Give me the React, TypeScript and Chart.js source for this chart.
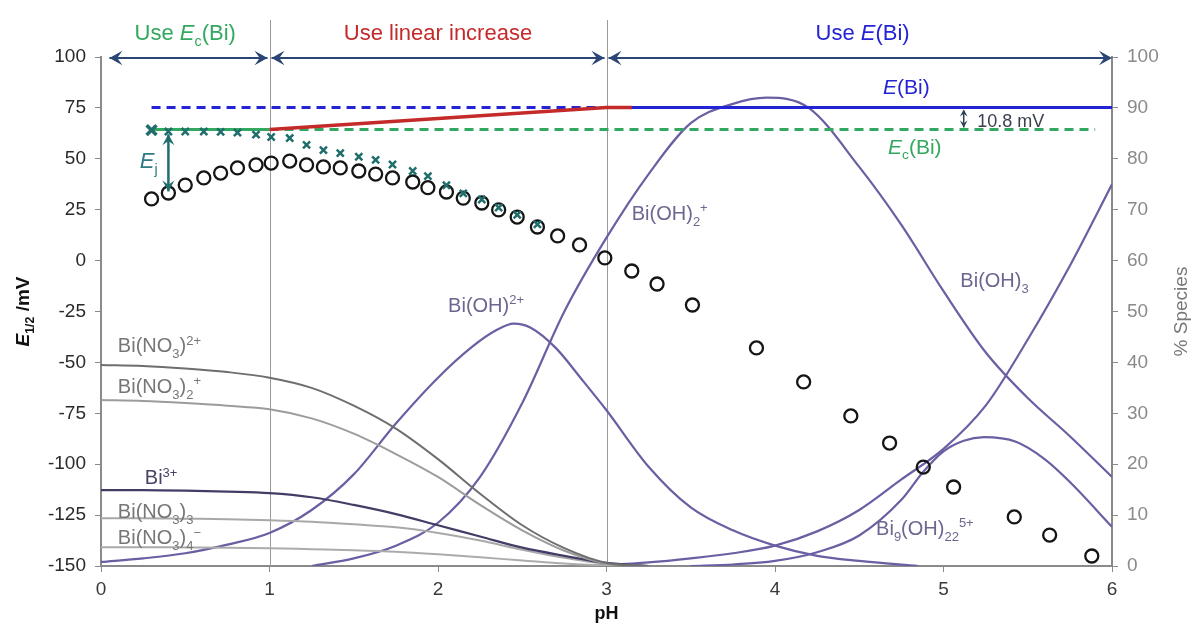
import React, { useEffect, useRef } from 'react';
import { Chart, registerables } from 'chart.js';

Chart.register(...registerables);

// ---------- data ----------
const xTickValues = [0, 1, 2, 3, 4, 5, 6];
const boundaryPH = [1, 3];

const measuredPH = [0.30, 0.40, 0.50, 0.61, 0.71, 0.81, 0.92, 1.01, 1.12, 1.22, 1.32, 1.42, 1.53, 1.63, 1.73, 1.85, 1.94, 2.05, 2.15, 2.26, 2.36, 2.47, 2.59, 2.71, 2.84, 2.99, 3.15, 3.30, 3.51, 3.89, 4.17, 4.45, 4.68, 4.88, 5.06, 5.42, 5.63, 5.88];
const measuredE = [30.3, 33.2, 37.1, 40.6, 43.0, 45.5, 47.0, 47.9, 48.9, 47.0, 46.0, 45.5, 44.0, 42.5, 40.6, 38.6, 35.8, 33.7, 30.7, 28.3, 24.9, 21.4, 16.5, 12.1, 7.7, 1.3, -5.1, -11.5, -21.8, -42.9, -59.6, -76.3, -89.6, -101.4, -111.2, -125.9, -134.8, -145.1];

const correctedPH = [0.30, 0.40, 0.50, 0.61, 0.71, 0.81, 0.92, 1.01, 1.12, 1.22, 1.32, 1.42, 1.53, 1.63, 1.73, 1.85, 1.94, 2.05, 2.15, 2.26, 2.36, 2.47, 2.59];
const correctedE = [64.1, 63.4, 63.4, 63.4, 63.2, 62.9, 61.9, 60.7, 60.2, 56.8, 54.3, 52.8, 51.0, 49.5, 47.2, 44.0, 41.5, 37.0, 33.0, 30.0, 26.0, 22.5, 17.8];

const E_BI = 75.2;
const EC_BI = 64.4;
const eBiDashPH = [0.3, 3.0];
const eBiSolidPH = [3.0, 6.0];
const ecSolidPH = [0.3, 1.0];
const ecDashPH = [1.0, 5.9];
const linearPH = [1.0, 3.0, 3.15];
const linearE = [64.4, 75.2, 75.2];

const nitrate1PH = [0, 0.25, 0.5, 0.75, 1, 1.25, 1.5, 1.75, 2, 2.25, 2.5, 2.75, 3, 3.25];
const nitrate1 = [39.5, 39.3, 38.8, 38.1, 37.0, 35.0, 31.5, 27.0, 21.0, 14.2, 8.0, 3.5, 0.6, 0];
const nitrate2PH = [0, 0.25, 0.5, 0.75, 1, 1.25, 1.5, 1.75, 2, 2.25, 2.5, 2.75, 3, 3.25];
const nitrate2 = [32.6, 32.4, 32.0, 31.5, 30.8, 29.0, 26.0, 22.0, 17.5, 12.0, 7.0, 3.0, 0.5, 0];
const bi3PH = [0, 0.25, 0.5, 0.75, 1, 1.25, 1.5, 1.75, 2, 2.25, 2.5, 2.75, 3, 3.25];
const bi3 = [14.9, 14.9, 14.8, 14.6, 14.3, 13.5, 12.0, 10.2, 8.0, 5.8, 3.6, 2.0, 0.6, 0];
const nitrate3PH = [0, 0.25, 0.5, 0.75, 1, 1.25, 1.5, 1.75, 2, 2.25, 2.5, 2.75, 3, 3.25];
const nitrate3 = [9.4, 9.4, 9.3, 9.2, 9.0, 8.7, 8.2, 7.6, 6.5, 5.0, 3.2, 1.6, 0.4, 0];
const nitrate4PH = [0, 0.25, 0.5, 0.75, 1, 1.25, 1.5, 1.75, 2, 2.25, 2.5, 2.75, 3, 3.25];
const nitrate4 = [3.7, 3.7, 3.65, 3.6, 3.5, 3.3, 3.1, 2.8, 2.3, 1.7, 1.1, 0.5, 0.1, 0];

const biOH1PH = [0, 0.25, 0.5, 0.75, 1, 1.25, 1.5, 1.75, 2, 2.2, 2.35, 2.45, 2.55, 2.7, 2.85, 3, 3.25, 3.5, 3.75, 4, 4.25, 4.5, 4.85];
const biOH1 = [0.8, 1.5, 2.5, 4.2, 6.5, 11.0, 18.0, 28.0, 37.0, 43.0, 46.4, 47.6, 46.8, 42.8, 36.8, 30.6, 19.5, 11.5, 7.0, 4.0, 2.0, 1.0, 0];
const biOH2PH = [1.25, 1.5, 1.75, 2, 2.25, 2.5, 2.75, 3, 3.25, 3.5, 3.75, 3.95, 4.2, 4.5, 4.75, 5, 5.25, 5.5, 5.75, 6];
const biOH2 = [0, 1.5, 4.0, 8.5, 17.5, 32.0, 50.0, 64.5, 77.0, 87.0, 90.8, 92.0, 90.0, 78.4, 67.0, 54.0, 42.0, 33.0, 25.5, 17.5];
const biOH3PH = [2.9, 3.25, 3.5, 3.75, 4, 4.25, 4.5, 4.75, 5, 5.25, 5.5, 5.75, 6];
const biOH3 = [0, 0.7, 1.5, 2.5, 4.0, 6.8, 11.0, 17.0, 23.0, 31.5, 44.5, 59.0, 75.0];
const bi9PH = [3.5, 3.75, 4, 4.25, 4.5, 4.75, 4.88, 5, 5.12, 5.24, 5.43, 5.6, 5.75, 6];
const bi9 = [0, 0.3, 1.0, 2.7, 6.0, 13.0, 18.5, 22.5, 24.6, 25.3, 24.4, 21.0, 16.5, 7.7];

// ---------- helpers ----------
const FAMILY = '"Liberation Sans", Arial, sans-serif';
const pts = (xs: number[], ys: number[]) => xs.map((x, i) => ({ x, y: ys[i] }));
const flat = (xs: number[], v: number) => xs.map((x) => ({ x, y: v }));

type Seg = { t: string; it?: boolean; sub?: boolean; sup?: boolean };

function rich(ctx: CanvasRenderingContext2D, segs: Seg[], x: number, y: number, size: number, color: string, align: 'left' | 'center' | 'right' = 'left', bold = false) {
  const f = (s: Seg) => {
    const sz = s.sub || s.sup ? size * 0.65 : size;
    return `${s.it ? 'italic ' : ''}${bold ? 'bold ' : ''}${sz}px ${FAMILY}`;
  };
  let w = 0;
  for (const s of segs) { ctx.font = f(s); w += ctx.measureText(s.t).width; }
  let cx = align === 'center' ? x - w / 2 : align === 'right' ? x - w : x;
  const base = y + size * 0.36;
  ctx.fillStyle = color;
  ctx.textBaseline = 'alphabetic';
  ctx.textAlign = 'left';
  for (const s of segs) {
    ctx.font = f(s);
    const dy = s.sub ? size * 0.28 : s.sup ? -size * 0.38 : 0;
    ctx.fillText(s.t, cx, base + dy);
    cx += ctx.measureText(s.t).width;
  }
}

function head(ctx: CanvasRenderingContext2D, x: number, y: number, ang: number, size: number, color: string) {
  const c = Math.cos(ang), s = Math.sin(ang);
  const p = (bx: number, by: number) => [x + bx * c - by * s, y + bx * s + by * c];
  const a = p(-size, -size * 0.55), b = p(-size * 0.6, 0), d = p(-size, size * 0.55);
  ctx.fillStyle = color;
  ctx.beginPath();
  ctx.moveTo(x, y);
  ctx.lineTo(a[0], a[1]);
  ctx.lineTo(b[0], b[1]);
  ctx.lineTo(d[0], d[1]);
  ctx.closePath();
  ctx.fill();
}

function dbl(ctx: CanvasRenderingContext2D, x1: number, y1: number, x2: number, y2: number, color: string, lw: number, hs: number) {
  ctx.strokeStyle = color;
  ctx.lineWidth = lw;
  ctx.beginPath();
  ctx.moveTo(x1, y1);
  ctx.lineTo(x2, y2);
  ctx.stroke();
  const ang = Math.atan2(y2 - y1, x2 - x1);
  head(ctx, x2, y2, ang, hs, color);
  head(ctx, x1, y1, ang + Math.PI, hs, color);
}

const GREEN = '#33a860';
const RED = '#c42a2a';
const BLUE = '#2424d4';
const NAVY = '#2b4675';
const TEAL = '#1f6e6c';
const PURPLE = '#6b5ea3';
const PURPLE_TXT = '#6e6590';
const GRAY_TXT = '#767676';

const overlay = {
  id: 'overlay',
  beforeDatasetsDraw(chart: any) {
    const ctx = chart.ctx as CanvasRenderingContext2D;
    const xs = chart.scales.x, area = chart.chartArea;
    ctx.save();
    ctx.strokeStyle = '#9a9a9a';
    ctx.lineWidth = 1;
    for (const b of boundaryPH) {
      const px = Math.round(xs.getPixelForValue(b)) + 0.5;
      ctx.beginPath();
      ctx.moveTo(px, area.top - 37);
      ctx.lineTo(px, area.bottom);
      ctx.stroke();
    }
    ctx.restore();
  },
  afterDatasetsDraw(chart: any) {
    const ctx = chart.ctx as CanvasRenderingContext2D;
    const xs = chart.scales.x, ys = chart.scales.y, y2 = chart.scales.y2, area = chart.chartArea;
    const X = (v: number) => xs.getPixelForValue(v);
    const Y = (v: number) => ys.getPixelForValue(v);
    const S = (v: number) => y2.getPixelForValue(v);
    ctx.save();

    // top region arrows
    const ay = S(100) + 1;
    dbl(ctx, X(0.05), ay, X(1) - 2, ay, NAVY, 2, 13);
    dbl(ctx, X(1) + 2, ay, X(3) - 2, ay, NAVY, 2, 13);
    ctx.strokeStyle = NAVY; ctx.lineWidth = 2;
    ctx.beginPath(); ctx.moveTo(X(3) + 2, ay); ctx.lineTo(X(6) - 2, ay); ctx.stroke();
    head(ctx, X(3) + 2, ay, Math.PI, 13, NAVY);
    head(ctx, X(6), ay, 0, 13, NAVY);

    // region titles
    const ty = area.top - 25;
    rich(ctx, [{ t: 'Use ' }, { t: 'E', it: true }, { t: 'c', sub: true }, { t: '(Bi)' }], X(0.5), ty, 22, GREEN, 'center');
    rich(ctx, [{ t: 'Use linear increase' }], X(2.0), ty, 22, RED, 'center');
    rich(ctx, [{ t: 'Use ' }, { t: 'E', it: true }, { t: '(Bi)' }], X(4.52), ty, 22, BLUE, 'center');

    // line labels
    rich(ctx, [{ t: 'E', it: true }, { t: '(Bi)' }], X(4.78), Y(85.3), 21, BLUE, 'center');
    rich(ctx, [{ t: 'E', it: true }, { t: 'c', sub: true }, { t: '(Bi)' }], X(4.83), Y(56.3), 21, GREEN, 'center');

    // 10.8 mV marker
    const mx = X(5.12);
    ctx.strokeStyle = '#2d3e55'; ctx.lineWidth = 1.5;
    ctx.beginPath(); ctx.moveTo(mx, Y(E_BI) + 3); ctx.lineTo(mx, Y(EC_BI) - 2); ctx.stroke();
    head(ctx, mx, Y(E_BI) + 2, -Math.PI / 2, 7, '#2d3e55');
    head(ctx, mx, Y(EC_BI) - 2, Math.PI / 2, 7, '#2d3e55');
    rich(ctx, [{ t: '10.8 mV' }], X(5.2), Y(68.6), 18, '#3a4050', 'left');

    // Ej arrow
    dbl(ctx, X(0.4), Y(62.0), X(0.4), Y(34.0), TEAL, 2.5, 11);
    rich(ctx, [{ t: 'E', it: true }, { t: 'j', sub: true }], X(0.23), Y(49.4), 22, '#2e7b86', 'left');

    // species labels
    rich(ctx, [{ t: 'Bi(NO' }, { t: '3', sub: true }, { t: ')' }, { t: '2+', sup: true }], X(0.1), S(43.4), 20, GRAY_TXT);
    rich(ctx, [{ t: 'Bi(NO' }, { t: '3', sub: true }, { t: ')' }, { t: '2', sub: true }, { t: '+', sup: true }], X(0.1), S(35.4), 20, GRAY_TXT);
    rich(ctx, [{ t: 'Bi' }, { t: '3+', sup: true }], X(0.26), S(17.5), 20, '#4a4266');
    rich(ctx, [{ t: 'Bi(NO' }, { t: '3', sub: true }, { t: ')' }, { t: '3', sub: true }], X(0.1), S(10.8), 20, GRAY_TXT);
    rich(ctx, [{ t: 'Bi(NO' }, { t: '3', sub: true }, { t: ')' }, { t: '4', sub: true }, { t: '\u2212', sup: true }], X(0.1), S(5.7), 20, GRAY_TXT);
    rich(ctx, [{ t: 'Bi(OH)' }, { t: '2+', sup: true }], X(2.06), S(51.3), 20, PURPLE_TXT);
    rich(ctx, [{ t: 'Bi(OH)' }, { t: '2', sub: true }, { t: '+', sup: true }], X(3.15), S(69.4), 20, PURPLE_TXT);
    rich(ctx, [{ t: 'Bi(OH)' }, { t: '3', sub: true }], X(5.1), S(56.2), 20, PURPLE_TXT);
    rich(ctx, [{ t: 'Bi' }, { t: '9', sub: true }, { t: '(OH)' }, { t: '22', sub: true }, { t: '5+', sup: true }], X(4.6), S(7.5), 20, PURPLE_TXT);

    // axis titles
    ctx.save();
    ctx.translate(22, (area.top + area.bottom) / 2);
    ctx.rotate(-Math.PI / 2);
    rich(ctx, [{ t: 'E', it: true }, { t: '1/2', sub: true }, { t: ' /mV' }], 0, 0, 19, '#111', 'center', true);
    ctx.restore();
    ctx.save();
    ctx.translate(1180, (area.top + area.bottom) / 2);
    ctx.rotate(-Math.PI / 2);
    rich(ctx, [{ t: '% Species' }], 0, 0, 19, '#777', 'center');
    ctx.restore();
    rich(ctx, [{ t: 'pH' }], (area.left + area.right) / 2, 613, 18, '#111', 'center', true);

    ctx.restore();
  },
};

const curve = (label: string, xs: number[], ys: number[], color: string, width: number, order: number) => ({
  label,
  data: pts(xs, ys),
  yAxisID: 'y2',
  showLine: true,
  borderColor: color,
  borderWidth: width,
  pointRadius: 0,
  cubicInterpolationMode: 'monotone' as const,
  order,
});

export default function App() {
  const ref = useRef<HTMLCanvasElement | null>(null);

  useEffect(() => {
    document.body.style.margin = '0';
    const canvas = ref.current;
    if (!canvas) return;
    const tickFont = { family: FAMILY, size: 19 };
    const chart = new Chart(canvas, {
      type: 'scatter',
      data: {
        datasets: [
          {
            label: 'corrected',
            data: pts(correctedPH, correctedE),
            yAxisID: 'y',
            pointStyle: 'crossRot',
            pointRadius: correctedPH.map((_, i) => (i === 0 ? 7 : 5)),
            pointBorderWidth: correctedPH.map((_, i) => (i === 0 ? 3.5 : 2.5)),
            borderColor: TEAL,
            backgroundColor: TEAL,
            showLine: false,
            order: 0,
          },
          {
            label: 'measured',
            data: pts(measuredPH, measuredE),
            yAxisID: 'y',
            pointStyle: 'circle',
            pointRadius: 6.5,
            pointBorderWidth: 2.3,
            borderColor: '#151515',
            backgroundColor: 'rgba(255,255,255,0)',
            showLine: false,
            order: 1,
          },
          {
            label: 'linear', data: pts(linearPH, linearE), yAxisID: 'y', showLine: true,
            borderColor: RED, borderWidth: 3.5, pointRadius: 0, order: 2,
          },
          {
            label: 'Ec solid', data: flat(ecSolidPH, EC_BI), yAxisID: 'y', showLine: true,
            borderColor: GREEN, borderWidth: 3, pointRadius: 0, order: 3,
          },
          {
            label: 'Ec dash', data: flat(ecDashPH, EC_BI), yAxisID: 'y', showLine: true,
            borderColor: GREEN, borderWidth: 3, borderDash: [9, 6], pointRadius: 0, order: 4,
          },
          {
            label: 'E dash', data: flat(eBiDashPH, E_BI), yAxisID: 'y', showLine: true,
            borderColor: BLUE, borderWidth: 3, borderDash: [9, 6], pointRadius: 0, order: 5,
          },
          {
            label: 'E solid', data: flat(eBiSolidPH, E_BI), yAxisID: 'y', showLine: true,
            borderColor: BLUE, borderWidth: 3, pointRadius: 0, order: 6,
          },
          curve('Bi(NO3)2+', nitrate1PH, nitrate1, '#6e6e6e', 2, 10),
          curve('Bi(NO3)2 +', nitrate2PH, nitrate2, '#9c9c9c', 2, 11),
          curve('Bi3+', bi3PH, bi3, '#453c66', 2.2, 12),
          curve('Bi(NO3)3', nitrate3PH, nitrate3, '#a8a8a8', 2, 13),
          curve('Bi(NO3)4-', nitrate4PH, nitrate4, '#ababab', 2, 14),
          curve('Bi(OH)2+', biOH1PH, biOH1, PURPLE, 2.2, 15),
          curve('Bi(OH)2 +', biOH2PH, biOH2, PURPLE, 2.2, 16),
          curve('Bi(OH)3', biOH3PH, biOH3, PURPLE, 2.2, 17),
          curve('Bi9(OH)22 5+', bi9PH, bi9, PURPLE, 2.2, 18),
        ],
      },
      options: {
        responsive: false,
        animation: false,
        layout: { padding: { top: 57, left: 0, right: 0, bottom: 0 } },
        plugins: { legend: { display: false }, tooltip: { enabled: false }, title: { display: false } },
        scales: {
          x: {
            type: 'linear', min: 0, max: 6,
            afterBuildTicks: (s: any) => { s.ticks = xTickValues.map((v) => ({ value: v })); },
            ticks: { font: tickFont, color: '#3a3a3a', padding: 6 },
            grid: { drawOnChartArea: false, drawTicks: true, tickLength: 6, color: '#8a8a8a' },
            border: { color: '#8a8a8a', width: 2 },
            afterFit: (s: any) => { s.height = 58; },
          },
          y: {
            position: 'left', min: -150, max: 100,
            ticks: { stepSize: 25, font: tickFont, color: '#2a2a2a', padding: 9 },
            grid: { drawOnChartArea: false, drawTicks: true, tickLength: 6, color: '#8a8a8a' },
            border: { color: '#8a8a8a', width: 2 },
            afterFit: (s: any) => { s.width = 101; },
          },
          y2: {
            position: 'right', min: 0, max: 100,
            ticks: { stepSize: 10, font: tickFont, color: '#8a8a8a', padding: 9 },
            grid: { drawOnChartArea: false, drawTicks: true, tickLength: 6, color: '#8a8a8a' },
            border: { color: '#8a8a8a', width: 2 },
            afterFit: (s: any) => { s.width = 86; },
          },
        },
      } as any,
      plugins: [overlay],
    });
    return () => chart.destroy();
  }, []);

  return (
    <div style={{ width: 1198, height: 624, background: '#fff' }}>
      <canvas ref={ref} width={1198} height={624} style={{ display: 'block' }} />
    </div>
  );
}
